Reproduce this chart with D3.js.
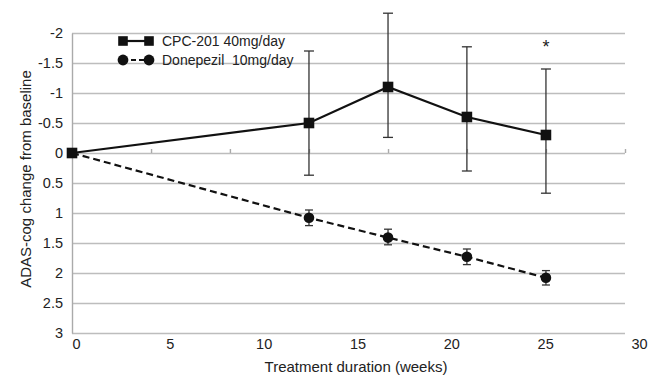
<!DOCTYPE html>
<html>
<head>
<meta charset="utf-8">
<script src="https://cdn.jsdelivr.net/npm/d3@7"></script>
<style>
  body { margin: 0; background: #fff; }
  text { font-family: "Liberation Sans", Arial, sans-serif; fill: #222; }
</style>
</head>
<body>
<svg width="659" height="376"></svg>
<script>
// values (weeks, ADAS-cog change; negative = improvement)
var weeks = [0, 12.5, 16.67, 20.83, 25];
var cpcMean = [0, -0.5, -1.1, -0.6, -0.3];
var cpcLow = [0, -1.7, -2.33, -1.77, -1.4];
var cpcHigh = [0, 0.37, -0.26, 0.3, 0.67];
var donMean = [0, 1.08, 1.41, 1.73, 2.08];
var donLow = [0, 0.95, 1.27, 1.6, 1.96];
var donHigh = [0, 1.21, 1.53, 1.86, 2.2];
var yTicks = [-2, -1.5, -1, -0.5, 0, 0.5, 1, 1.5, 2, 2.5, 3];
var xTicks = [0, 5, 10, 15, 20, 25, 30];
var catTicks = [4.17, 8.33, 12.5, 16.67, 20.83, 25, 29.17];
var seriesNames = ["CPC-201 40mg/day", "Donepezil  10mg/day"];

var svg = d3.select("svg"),
    plotLeft = 72, plotRight = 625, plotTop = 33, plotBottom = 333;

var x = d3.scaleLinear().domain([0, 29.17]).range([plotLeft, plotRight]);
var xLabel = d3.scaleLinear().domain([0, 30]).range([76, 639]);
var y = d3.scaleLinear().domain([-2, 3]).range([plotTop, plotBottom]);

// horizontal gridlines
svg.append("g")
    .attr("transform", "translate(" + plotLeft + ",0)")
    .call(d3.axisLeft(y).tickValues(yTicks).tickSize(-(plotRight - plotLeft)).tickFormat(""))
    .call(function(g) {
        g.select(".domain").remove();
        g.selectAll(".tick line").attr("stroke", "#bdbdbd").attr("stroke-width", 1.4);
    });

// left axis line + labels
svg.append("g")
    .attr("transform", "translate(" + plotLeft + ",0)")
    .call(d3.axisLeft(y).tickValues(yTicks).tickSize(0).tickPadding(9)
        .tickFormat(function(d) { return String(d); }))
    .call(function(g) {
        g.select(".domain").attr("stroke", "#aaa").attr("stroke-width", 1.4);
        g.selectAll("text").style("font-size", "14.5px").attr("fill", "#222");
    });

// category tick marks on the zero line
svg.append("g")
    .attr("transform", "translate(0," + y(0) + ")")
    .call(d3.axisTop(x).tickValues(catTicks).tickSize(4).tickFormat(""))
    .call(function(g) {
        g.select(".domain").remove();
        g.selectAll(".tick line").attr("stroke", "#aaa").attr("stroke-width", 1.4);
    });

// bottom labels
svg.append("g")
    .attr("transform", "translate(0," + plotBottom + ")")
    .call(d3.axisBottom(xLabel).tickValues(xTicks).tickSize(0).tickPadding(6))
    .call(function(g) {
        g.select(".domain").remove();
        g.selectAll("text").style("font-size", "14.5px").attr("fill", "#222");
    });

// axis titles
svg.append("text")
    .attr("x", 356).attr("y", 372)
    .attr("text-anchor", "middle")
    .style("font-size", "15px")
    .text("Treatment duration (weeks)");

svg.append("text")
    .attr("transform", "translate(31,179) rotate(-90)")
    .attr("text-anchor", "middle")
    .style("font-size", "15px")
    .text("ADAS-cog change from baseline");

function errorBars(low, high, cap) {
    var g = svg.append("g").attr("stroke", "#333").attr("stroke-width", 1.3);
    weeks.forEach(function(w, i) {
        if (i == 0) return;
        g.append("line").attr("x1", x(w)).attr("x2", x(w)).attr("y1", y(low[i])).attr("y2", y(high[i]));
        g.append("line").attr("x1", x(w) - cap).attr("x2", x(w) + cap).attr("y1", y(low[i])).attr("y2", y(low[i]));
        g.append("line").attr("x1", x(w) - cap).attr("x2", x(w) + cap).attr("y1", y(high[i])).attr("y2", y(high[i]));
    });
}
errorBars(cpcLow, cpcHigh, 5);
errorBars(donLow, donHigh, 4);

var line = d3.line()
    .x(function(d) { return x(d[0]); })
    .y(function(d) { return y(d[1]); });

svg.append("path")
    .datum(d3.zip(weeks, donMean))
    .attr("d", line)
    .attr("fill", "none")
    .attr("stroke", "#111")
    .attr("stroke-width", 2.2)
    .attr("stroke-dasharray", "7,4");

svg.append("path")
    .datum(d3.zip(weeks, cpcMean))
    .attr("d", line)
    .attr("fill", "none")
    .attr("stroke", "#111")
    .attr("stroke-width", 2.2);

svg.selectAll(".don")
    .data(d3.zip(weeks, donMean).slice(1))
    .enter().append("circle")
    .attr("class", "don")
    .attr("cx", function(d) { return x(d[0]); })
    .attr("cy", function(d) { return y(d[1]); })
    .attr("r", 5.3)
    .attr("fill", "#111");

svg.selectAll(".cpc")
    .data(d3.zip(weeks, cpcMean))
    .enter().append("rect")
    .attr("class", "cpc")
    .attr("x", function(d) { return x(d[0]) - 5.3; })
    .attr("y", function(d) { return y(d[1]) - 5.3; })
    .attr("width", 10.6)
    .attr("height", 10.6)
    .attr("fill", "#111");

// significance mark
svg.append("text")
    .attr("x", x(25)).attr("y", 53)
    .attr("text-anchor", "middle")
    .style("font-size", "18px")
    .text("*");

// legend
var legend = svg.append("g");
seriesNames.forEach(function(name, i) {
    var ly = 41 + i * 19;
    legend.append("line")
        .attr("x1", 123).attr("x2", 149).attr("y1", ly).attr("y2", ly)
        .attr("stroke", "#111").attr("stroke-width", 2.2)
        .attr("stroke-dasharray", i == 1 ? "5,3" : null);
    [123, 149].forEach(function(cx) {
        if (i == 0)
            legend.append("rect").attr("x", cx - 4.8).attr("y", ly - 4.8)
                .attr("width", 9.6).attr("height", 9.6).attr("fill", "#111");
        else
            legend.append("circle").attr("cx", cx).attr("cy", ly).attr("r", 5.4).attr("fill", "#111");
    });
    legend.append("text")
        .attr("x", 162).attr("y", ly + 5)
        .style("font-size", "14px")
        .style("white-space", "pre")
        .text(name);
});
</script>
</body>
</html>
